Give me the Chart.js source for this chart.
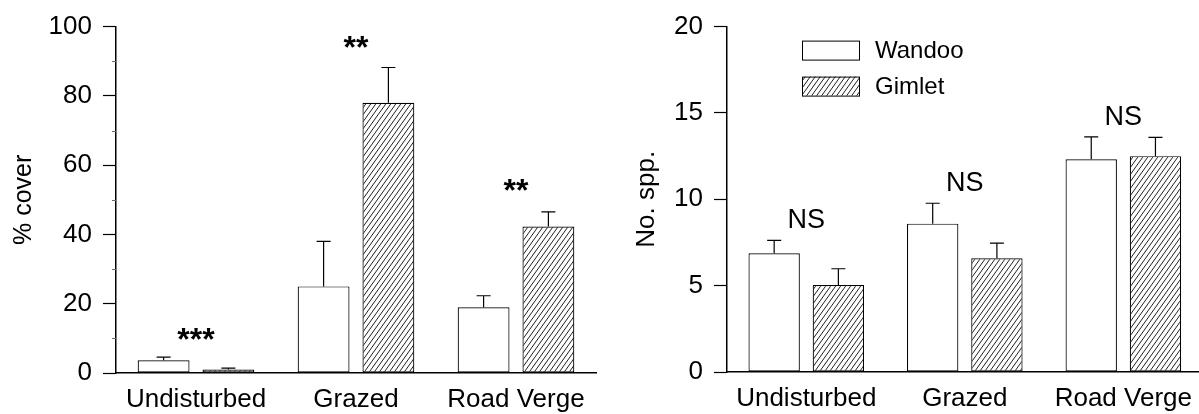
<!DOCTYPE html>
<html>
<head>
<meta charset="utf-8">
<script src="https://cdn.jsdelivr.net/npm/chart.js@4.4.0/dist/chart.umd.min.js"></script>
<style>
  html, body { margin: 0; padding: 0; background: #fff; overflow: hidden; }
  body { width: 1199px; height: 414px; position: relative; }
  #coverChart { position: absolute; left: 0; top: 0; }
  #sppChart { position: absolute; left: 600px; top: 0; }
</style>
</head>
<body>
<canvas id="coverChart" width="600" height="414"></canvas>
<canvas id="sppChart" width="603" height="414"></canvas>
<script>
"use strict";
const sites = ["Undisturbed", "Grazed", "Road Verge"];
const seriesNames = ["Wandoo", "Gimlet"];

// % cover (left panel)
const coverWandoo = [3.7, 25, 19];
const coverWandooErr = [0.9, 13, 3.3];
const coverGimlet = [1, 78, 42.3];
const coverGimletErr = [0.4, 10.2, 4.2];
const coverSig = ["***", "**", "**"];
const coverSigAt = [11.7, 96, 54.8];
const coverTicks = [0, 20, 40, 60, 80, 100];
const coverMinorTicks = [10, 30, 50, 70, 90];

// No. spp. (right panel)
const sppWandoo = [6.87, 8.59, 12.32];
const sppWandooErr = [0.75, 1.18, 1.3];
const sppGimlet = [5.04, 6.59, 12.5];
const sppGimletErr = [0.94, 0.87, 1.08];
const sppSig = ["NS", "NS", "NS"];
const sppSigAt = [8.9, 11.08, 14.9];
const sppTicks = [0, 5, 10, 15, 20];

const FONT = "'Liberation Sans', Arial, sans-serif";

const hatch = () => {
  const c = document.createElement("canvas");
  c.width = 5;
  c.height = 7;
  const g = c.getContext("2d");
  g.fillStyle = "#fff";
  g.fillRect(0, 0, 5, 7);
  g.strokeStyle = "#222";
  g.lineWidth = 1;
  for (const off of [-5, 0, 5]) {
    g.beginPath();
    g.moveTo(off, 7);
    g.lineTo(off + 5, 0);
    g.stroke();
  }
  return g.createPattern(c, "repeat");
};

const extras = {
  id: "extras",
  afterDatasetsDraw(chart, args, opts) {
    const { ctx } = chart;
    const x = chart.scales.x;
    const y = chart.scales.y;
    ctx.save();
    ctx.strokeStyle = "#000";
    ctx.lineWidth = 1.2;
    // error bars, upper side only
    chart.data.datasets.forEach((ds, i) => {
      chart.getDatasetMeta(i).data.forEach((bar, j) => {
        const yEnd = y.getPixelForValue(ds.data[j] + ds.errors[j]);
        ctx.beginPath();
        ctx.moveTo(bar.x, bar.y);
        ctx.lineTo(bar.x, yEnd);
        ctx.moveTo(bar.x - 7, yEnd);
        ctx.lineTo(bar.x + 7, yEnd);
        ctx.stroke();
      });
    });
    // minor ticks (faint in the original)
    ctx.strokeStyle = "#666";
    ctx.lineWidth = 1;
    ctx.beginPath();
    (opts.minor || []).forEach((v) => {
      const py = Math.round(y.getPixelForValue(v)) + 0.5;
      ctx.moveTo(x.left - 4, py);
      ctx.lineTo(x.left, py);
    });
    ctx.stroke();
    // significance labels
    ctx.strokeStyle = "#000";
    ctx.fillStyle = "#000";
    ctx.font = opts.font;
    ctx.textAlign = "center";
    ctx.textBaseline = "alphabetic";
    opts.labels.forEach((t, j) => {
      ctx.fillText(t, x.getPixelForValue(j), y.getPixelForValue(opts.at[j]) + opts.dy);
    });
    // legend inside plot
    if (opts.legend) {
      ctx.font = "24px " + FONT;
      ctx.textAlign = "left";
      ctx.textBaseline = "middle";
      ctx.lineWidth = 1;
      chart.data.datasets.forEach((ds, i) => {
        const top = chart.chartArea.top + 14 + i * 36;
        const left = chart.chartArea.left + 75;
        ctx.fillStyle = ds.backgroundColor;
        ctx.fillRect(left, top, 57, 19);
        ctx.strokeRect(left + 0.5, top + 0.5, 57, 19);
        ctx.fillStyle = "#000";
        ctx.fillText(ds.label, left + 73, top + 10.5);
      });
    }
    ctx.restore();
  },
};

const makeChart = (id, s) => {
  const pattern = hatch();
  return new Chart(document.getElementById(id), {
    type: "bar",
    data: {
      labels: sites,
      datasets: [
        {
          label: seriesNames[0],
          data: s.wandoo,
          errors: s.wandooErr,
          backgroundColor: "#fff",
          borderColor: "#000",
          borderWidth: 1.2,
          borderSkipped: false,
        },
        {
          label: seriesNames[1],
          data: s.gimlet,
          errors: s.gimletErr,
          backgroundColor: pattern,
          borderColor: "#000",
          borderWidth: 1.2,
          borderSkipped: false,
        },
      ],
    },
    options: {
      responsive: false,
      animation: false,
      categoryPercentage: 0.81,
      barPercentage: 0.8,
      layout: { padding: { top: s.padTop, right: s.padRight, left: 0, bottom: 0 } },
      plugins: {
        legend: { display: false },
        tooltip: { enabled: false },
        extras: {
          minor: s.minor,
          labels: s.sig,
          at: s.sigAt,
          font: s.sigFont,
          dy: s.sigDy,
          legend: s.legend,
        },
      },
      scales: {
        x: {
          grid: { drawOnChartArea: false, drawTicks: false },
          border: { color: "#000", width: 1.5 },
          ticks: { color: "#000", padding: 11, font: { family: FONT, size: 26 } },
          afterFit: (sc) => { sc.height = s.xHeight; },
        },
        y: {
          min: 0,
          max: s.max,
          afterBuildTicks: (sc) => { sc.ticks = s.ticks.map((v) => ({ value: v })); },
          grid: { drawOnChartArea: false, drawTicks: true, tickLength: 13, tickColor: "#000", tickWidth: 1.2 },
          border: { color: "#000", width: 1.5 },
          ticks: { color: "#000", padding: 11, font: { family: FONT, size: 26 } },
          title: {
            display: true,
            text: s.title,
            color: "#000",
            font: { family: FONT, size: s.titleSize },
            padding: { top: s.titlePad, bottom: 0 },
          },
          afterFit: (sc) => { sc.width = s.yWidth; },
        },
      },
    },
    plugins: [extras],
  });
};

makeChart("coverChart", {
  wandoo: coverWandoo,
  wandooErr: coverWandooErr,
  gimlet: coverGimlet,
  gimletErr: coverGimletErr,
  sig: coverSig,
  sigAt: coverSigAt,
  sigFont: "bold 32px " + FONT,
  sigDy: 18,
  minor: coverMinorTicks,
  ticks: coverTicks,
  max: 100,
  title: "% cover",
  titleSize: 25,
  titlePad: 9,
  padTop: 21,
  padRight: 4,
  xHeight: 41,
  yWidth: 116,
  legend: false,
});

makeChart("sppChart", {
  wandoo: sppWandoo,
  wandooErr: sppWandooErr,
  gimlet: sppGimlet,
  gimletErr: sppGimletErr,
  sig: sppSig,
  sigAt: sppSigAt,
  sigFont: "27px " + FONT,
  sigDy: 10,
  minor: [],
  ticks: sppTicks,
  max: 20,
  title: "No. spp.",
  titleSize: 26,
  titlePad: 31,
  padTop: 19,
  padRight: 0,
  xHeight: 42,
  yWidth: 127,
  legend: true,
});
</script>
</body>
</html>
